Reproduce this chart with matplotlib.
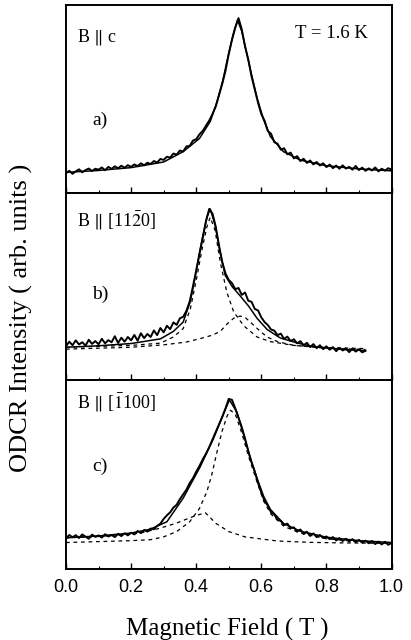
import matplotlib
matplotlib.use("Agg")
import matplotlib.pyplot as plt
import numpy as np

plt.rcParams['mathtext.fontset'] = 'stix'

# ---------------- data (arb. units 0-100 per panel) ----------------
field_a = [i / 100 for i in range(101)]
data_a = [10.5, 11.8, 10.2, 11.5, 12.6, 11.0, 12.2, 13.0, 11.7, 12.9,
          12.4, 13.6, 12.1, 13.9, 12.8, 14.2, 13.1, 14.5, 13.4, 14.8,
          13.9, 15.2, 14.3, 15.8, 14.7, 16.1, 15.4, 17.0, 16.2, 18.1,
          17.6, 19.3, 18.8, 21.0, 20.4, 22.6, 22.1, 24.8, 25.0, 27.9,
          28.6, 31.2, 33.0, 35.8, 38.5, 42.0, 46.0, 52.0, 58.0, 65.0,
          74.0, 81.5, 88.0, 93.0, 87.0, 78.0, 71.0, 62.0, 55.0, 48.0,
          42.0, 38.5, 33.0, 31.5, 27.0, 26.2, 23.0, 23.8, 20.6, 21.5,
          18.4, 19.6, 17.0, 18.2, 16.0, 17.3, 15.2, 16.5, 14.6, 15.8,
          13.8, 15.1, 13.2, 14.6, 12.9, 14.7, 13.0, 13.9, 12.4, 14.4,
          12.2, 13.5, 11.8, 13.1, 12.0, 13.6, 11.5, 12.9, 11.9, 13.2, 12.4]
fitx_a = [0.0, 0.1, 0.2, 0.3, 0.36, 0.41, 0.443, 0.463, 0.482, 0.497, 0.513, 0.527,
          0.540, 0.553, 0.566, 0.587, 0.607, 0.628, 0.668, 0.72, 0.8, 0.9, 1.0]
fity_a = [11.0, 12.0, 13.5, 16.5, 22.0, 29.0, 38.0, 48.0, 60.0, 72.0, 84.0, 92.0,
          86.0, 76.0, 66.0, 50.5, 39.0, 30.0, 22.0, 17.5, 14.5, 12.8, 11.8]

field_b = [i / 100 for i in range(93)]
data_b = [18.0, 20.5, 18.6, 21.2, 19.0, 20.2, 18.4, 21.5, 19.3, 20.8,
          19.1, 22.0, 19.6, 21.3, 20.2, 23.4, 19.8, 22.6, 20.5, 23.0,
          21.2, 24.1, 21.0, 25.0, 22.4, 24.6, 23.0, 26.5, 24.0, 27.8,
          25.5, 29.0, 27.2, 30.8, 29.5, 33.0, 33.8, 37.0, 42.0, 50.0,
          58.5, 67.5, 76.0, 85.0, 91.5, 89.0, 82.0, 72.0, 63.0, 57.0,
          53.5, 51.8, 48.6, 49.2, 45.5, 46.8, 42.4, 41.8, 38.0, 37.2,
          33.5, 31.0, 29.4, 27.0, 26.4, 24.0, 24.8, 22.0, 23.2, 20.8,
          21.8, 19.6, 20.8, 18.5, 19.9, 17.6, 19.2, 17.0, 18.6, 16.5,
          18.0, 16.2, 17.6, 15.4, 17.2, 15.8, 16.9, 14.9, 16.8, 15.2,
          16.4, 14.8, 15.6]
fitx_b = [0.0, 0.1, 0.2, 0.29, 0.33, 0.36, 0.382, 0.402, 0.418, 0.433, 0.443, 0.458,
          0.474, 0.489, 0.51, 0.535, 0.561, 0.587, 0.618, 0.658, 0.71, 0.76, 0.86, 0.92]
fity_b = [17.5, 18.3, 19.5, 22.0, 26.0, 31.0, 42.0, 60.0, 75.0, 87.0, 91.5, 83.0,
          68.0, 56.0, 50.0, 45.0, 39.5, 33.0, 27.0, 22.5, 19.8, 17.8, 16.2, 15.8]
mainx_b = [0.0, 0.1, 0.2, 0.29, 0.33, 0.36, 0.382, 0.402, 0.418, 0.433, 0.443, 0.458,
           0.474, 0.494, 0.515, 0.546, 0.587, 0.628, 0.7, 0.8, 0.92]
mainy_b = [17.5, 18.0, 18.5, 19.7, 23.0, 27.5, 38.0, 55.0, 70.0, 82.0, 87.0, 80.0,
           63.0, 47.0, 36.5, 29.0, 23.0, 20.5, 18.5, 17.3, 16.8]
sidex_b = [0.0, 0.1, 0.2, 0.3, 0.37, 0.42, 0.45, 0.474, 0.495, 0.515, 0.535, 0.55,
           0.566, 0.597, 0.618, 0.65, 0.7, 0.8, 0.92]
sidey_b = [16.5, 17.0, 17.5, 18.8, 20.3, 22.5, 24.0, 26.0, 30.0, 33.0, 34.2, 33.5,
           31.0, 26.0, 23.0, 20.5, 18.5, 17.0, 16.3]

field_c = [i / 100 for i in range(101)]
data_c = [16.2, 18.0, 16.8, 17.9, 16.4, 18.3, 17.1, 16.0, 18.2, 17.0,
          17.8, 16.6, 18.4, 17.2, 18.0, 16.9, 18.6, 17.4, 18.9, 17.8,
          19.2, 18.3, 20.1, 19.0, 20.6, 19.8, 21.4, 21.0, 22.8, 24.0,
          26.5, 28.4, 30.0, 32.5, 34.0, 37.0, 39.5, 42.0, 45.5, 48.0,
          51.5, 54.5, 58.0, 61.0, 64.5, 68.5, 72.5, 76.5, 80.5, 85.0,
          90.0, 89.5, 85.0, 80.0, 75.0, 69.0, 62.5, 56.5, 51.5, 45.5,
          40.5, 36.0, 33.5, 30.0, 28.8, 26.0, 25.4, 23.2, 24.0, 21.6,
          22.0, 19.8, 20.9, 18.6, 19.7, 17.5, 18.8, 16.9, 18.0, 16.4,
          17.2, 15.8, 16.9, 15.1, 16.3, 14.8, 16.0, 14.6, 15.8, 14.2,
          15.4, 13.9, 15.0, 13.6, 14.8, 13.2, 14.5, 13.0, 14.4, 12.8, 13.8]
fitx_c = [0.0, 0.1, 0.2, 0.258, 0.31, 0.36, 0.412, 0.453, 0.479, 0.502, 0.525, 0.546,
          0.566, 0.587, 0.607, 0.628, 0.669, 0.72, 0.8, 0.9, 1.0]
fity_c = [16.5, 17.5, 19.0, 21.0, 25.0, 37.5, 54.0, 69.0, 80.0, 89.5, 83.0, 71.0,
          58.6, 48.0, 38.5, 31.5, 24.0, 20.0, 16.8, 15.0, 14.0]
mainx_c = [0.0, 0.2, 0.26, 0.3, 0.34, 0.38, 0.41, 0.433, 0.448, 0.464, 0.479, 0.495,
           0.505, 0.52, 0.54, 0.56, 0.587, 0.607, 0.63, 0.67, 0.72, 0.8, 0.9, 1.0]
mainy_c = [14.0, 15.0, 15.5, 17.0, 19.8, 25.0, 32.0, 41.0, 50.0, 62.0, 72.7, 81.0,
           84.0, 82.0, 72.0, 60.0, 46.0, 36.0, 29.0, 22.5, 19.0, 16.0, 14.5, 13.5]
sidex_c = [0.0, 0.1, 0.226, 0.287, 0.338, 0.39, 0.428, 0.46, 0.5, 0.55, 0.65, 0.75,
           0.85, 1.0]
sidey_c = [16.5, 17.2, 18.9, 21.5, 24.2, 27.7, 29.8, 24.2, 19.8, 17.0, 14.8, 14.1,
           13.8, 13.6]

labels = [r"B $\|$ c", r"B $\|$ [11$\bar{2}$0]", r"B $\|$ [$\bar{1}$100]"]
letters = ["a)", "b)", "c)"]
xticks = [0.0, 0.2, 0.4, 0.6, 0.8, 1.0]
xtick_labels = ["0.0", "0.2", "0.4", "0.6", "0.8", "1.0"]

# ---------------- figure ----------------
W, H = 411, 640
fig = plt.figure(figsize=(W / 100, H / 100), dpi=100)
left, right = 66 / W, 391.5 / W
edges = [5, 193, 380, 569]
axes = []
for i in range(3):
    top = 1 - edges[i] / H
    bot = 1 - edges[i + 1] / H
    ax = fig.add_axes([left, bot, right - left, top - bot])
    axes.append(ax)

serif = ['Liberation Serif', 'DejaVu Serif']
panels = [
    (field_a, data_a, fitx_a, fity_a, None, None, None, None),
    (field_b, data_b, fitx_b, fity_b, mainx_b, mainy_b, sidex_b, sidey_b),
    (field_c, data_c, fitx_c, fity_c, mainx_c, mainy_c, sidex_c, sidey_c),
]
label_y = [0.83, 0.85, 0.878]
letter_y = [0.388, 0.46, 0.545]
for i, (ax, p) in enumerate(zip(axes, panels)):
    fx, fy, ftx, fty, mx, my, sx, sy = p
    if mx is not None:
        ax.plot(mx, my, color='black', lw=0.9, ls=(0, (3, 3)))
        ax.plot(sx, sy, color='black', lw=0.9, ls=(0, (3, 3)))
    ax.plot(fx, fy, color='black', lw=1.4)
    ax.plot(ftx, fty, color='black', lw=1.1)
    ax.set_xlim(0, 1)
    ax.set_ylim(0, 100)
    ax.set_yticks([])
    ax.set_xticks(xticks)
    ax.set_xticks(np.arange(0.1, 1.0, 0.2), minor=True)
    ax.tick_params(axis='x', which='major', direction='in', length=4, width=1)
    ax.tick_params(axis='x', which='minor', direction='in', length=2, width=0.8)
    for s in ax.spines.values():
        s.set_linewidth(1.4)
    if i < 2:
        ax.set_xticklabels([])
    else:
        ax.set_xticklabels(xtick_labels, family=['Liberation Sans', 'DejaVu Sans'], fontsize=13)
        ax.tick_params(axis='x', which='major', pad=7)
    ax.text(0.035, label_y[i], labels[i], transform=ax.transAxes,
            family=serif, fontsize=13, va='center', ha='left')
    ax.text(0.08, letter_y[i], letters[i], transform=ax.transAxes,
            family=serif, fontsize=14, va='center', ha='left')

axes[0].text(0.703, 0.846, "T = 1.6 K", transform=axes[0].transAxes,
             family=serif, fontsize=13.5, va='center', ha='left')

fig.text(227 / W, 1 - 629 / H, "Magnetic Field ( T )", family=serif, fontsize=18,
         ha='center', va='center')
fig.text(21 / W, 1 - 318 / H, "ODCR Intensity ( arb. units )", family=serif, fontsize=19,
         ha='center', va='center', rotation=90)

fig.savefig("out.png", dpi=100)
